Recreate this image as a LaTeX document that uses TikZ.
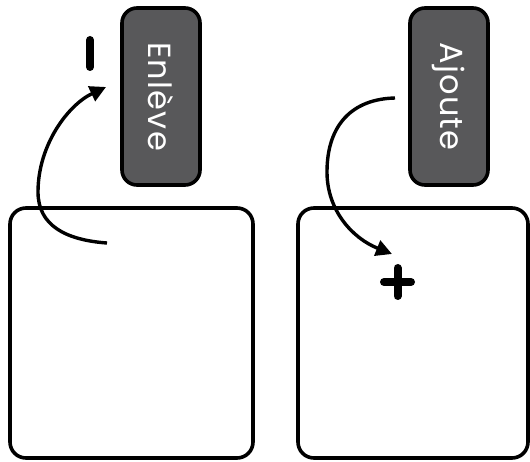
\documentclass[tikz,border=0pt]{standalone}
\usepackage{fontspec}
\setmainfont{Poppins}[LetterSpace=4]
\usetikzlibrary{arrows.meta}
\definecolor{tagfill}{HTML}{58585A}
\tikzset{
  panel/.style={draw=black, line width=3.6pt, rounded corners=16pt, fill=white},
  tag/.style={draw=black, line width=3.6pt, rounded corners=15pt, fill=tagfill,
    minimum width=78pt, minimum height=177pt, inner sep=0pt},
  tagtext/.style={text=white, font=\fontsize{32}{32}\selectfont, rotate=-90},
  flow/.style={line width=3.4pt, -{Triangle[length=16pt,width=16pt]}},
  sign/.style={line width=8pt, line cap=round}
}
\begin{document}
\begin{tikzpicture}[x=1pt,y=-1pt]
\useasboundingbox (0,0) rectangle (530,462);
% the two panels
\node[panel, minimum width=243pt, minimum height=250pt, inner sep=0pt] (leftpanel) at (131.5,333) {};
\node[panel, minimum width=230pt, minimum height=250pt, inner sep=0pt] (rightpanel) at (413,333) {};
% labels
\node[tag] (remove) at (161,96.5) {};
\node[tagtext] (removetxt) at (remove.center) {Enlève};
\node[tag] (add) at (449,96.5) {};
\node[tagtext] (addtxt) at (add.center) {Ajoute};
% minus sign
\coordinate (mtop) at (90,40);
\coordinate (mbot) at (90,67);
\draw[sign] (mtop) -- (mbot);
% plus sign
\coordinate (pl) at (384,282);
\coordinate (pr) at (411,282);
\coordinate (pt) at (397.5,268);
\coordinate (pb) at (397.5,296);
\draw[sign] (pl) -- (pr);
\draw[sign] (pt) -- (pb);
% curved arrows
\coordinate (remstart) at (107,243);
\coordinate (remmid) at (38,192);
\coordinate (remend) at (106,87);
\draw[flow] (remstart) .. controls (65,240) and (38,225) .. (remmid)
  .. controls (38,145) and (68,105) .. (remend);
\coordinate (addstart) at (395,98);
\coordinate (addmid) at (327,172);
\coordinate (addend) at (392,254);
\draw[flow] (addstart) .. controls (352,99) and (327,125) .. (addmid)
  .. controls (327,210) and (352,238) .. (addend);
\end{tikzpicture}
\end{document}
